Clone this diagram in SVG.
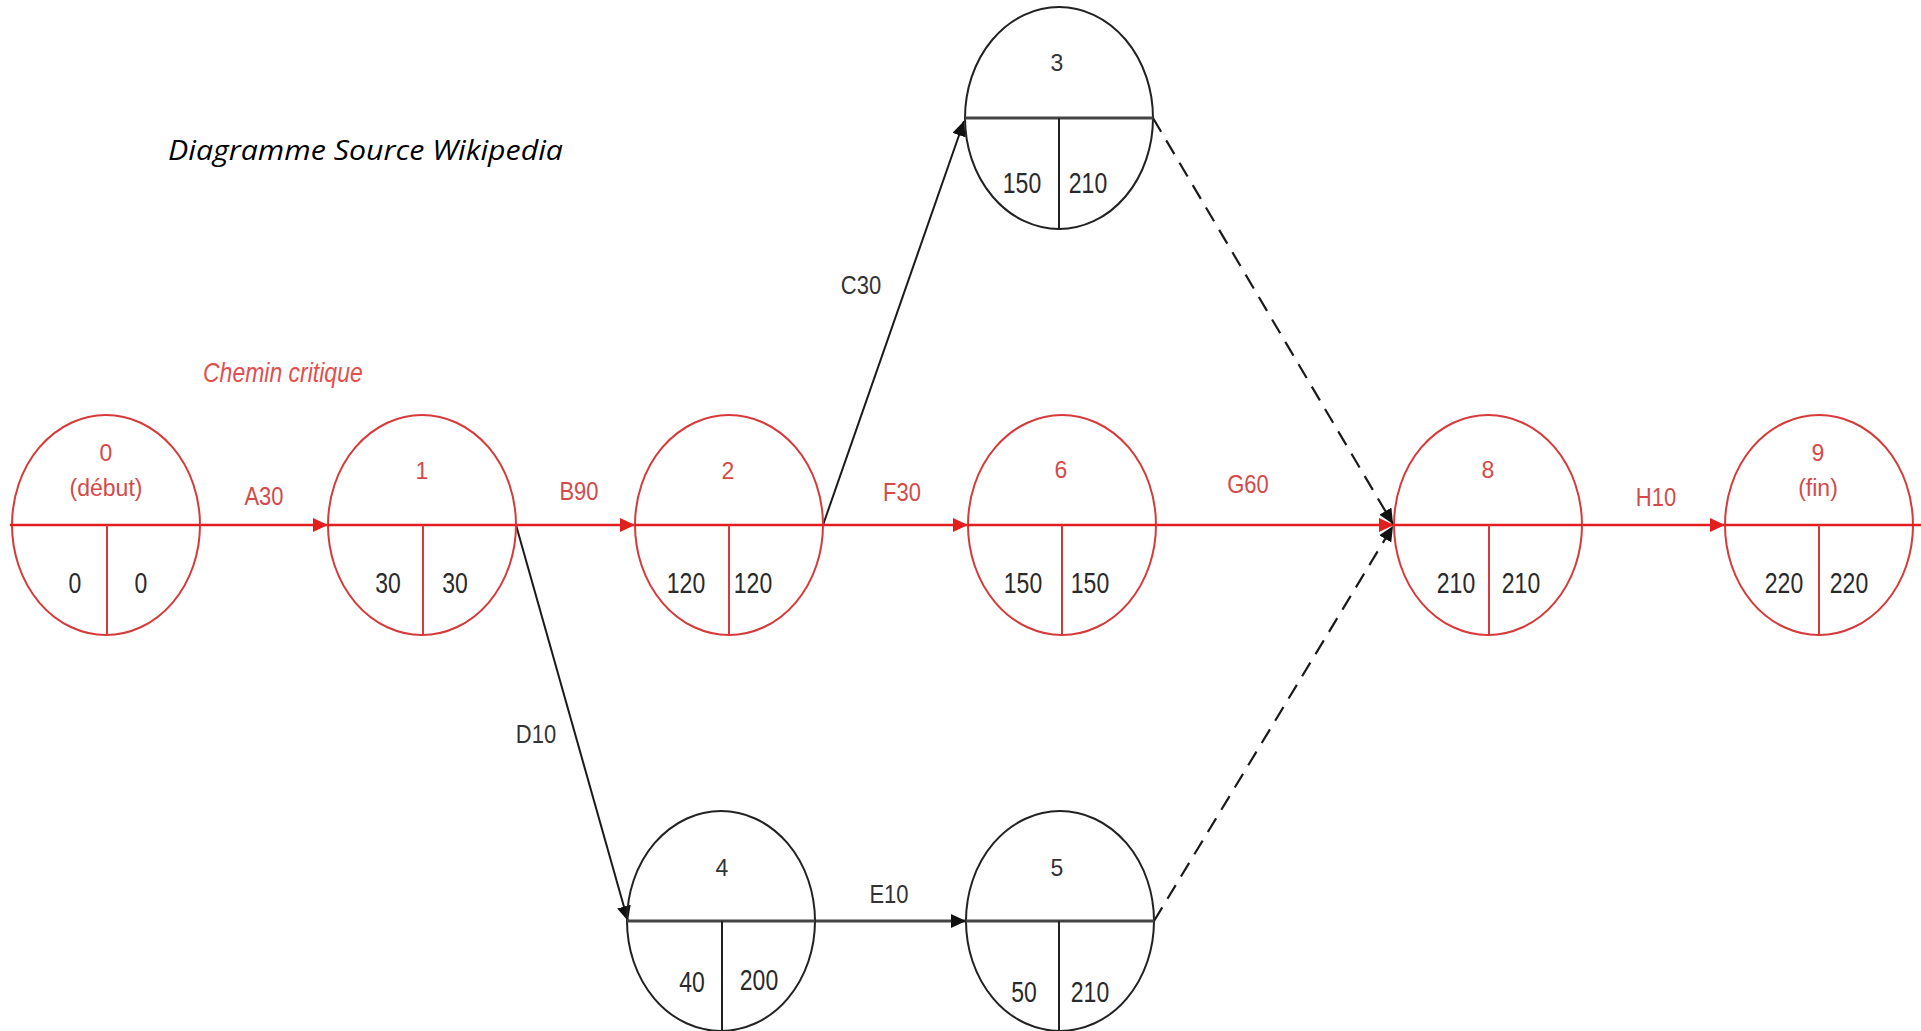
<svg xmlns="http://www.w3.org/2000/svg" width="1921" height="1031" viewBox="0 0 1921 1031">
<style>
.bg{fill:#ffffff}
.rn{fill:none;stroke:#d63a3a;stroke-width:2}
.bn{fill:none;stroke:#222;stroke-width:2}
.rl{stroke:#e21f1f;stroke-width:2.5;fill:none}
.rd{stroke:#d63a3a;stroke-width:2;fill:none}
.bl{stroke:#444;stroke-width:3;fill:none}
.bd{stroke:#222;stroke-width:2;fill:none}
.ba{stroke:#1a1a1a;stroke-width:2;fill:none}
.dash{stroke:#1a1a1a;stroke-width:2.2;fill:none;stroke-dasharray:16 10}
text{font-family:"Liberation Sans",Arial,sans-serif;text-anchor:middle}
.top{font-size:23px;fill:#d44a4a}
.topb{font-size:23px;fill:#333}
.num{font-size:23px;fill:#2a2a2a;transform-box:fill-box;transform-origin:center;transform:scaleY(1.3)}
.el{font-size:22px;fill:#d44a4a;transform-box:fill-box;transform-origin:center;transform:scaleY(1.2)}
.elb{font-size:22px;fill:#333;transform-box:fill-box;transform-origin:center;transform:scaleY(1.2)}
.crit{font-size:23px;font-style:italic;fill:#e05050;text-anchor:start;transform-box:fill-box;transform-origin:center;transform:scaleY(1.2)}
.title{font-family:"Open Sans","Noto Sans",sans-serif;font-size:28px;font-style:italic;fill:#000;text-anchor:start}
</style>
<defs>
<marker id="ar" markerUnits="userSpaceOnUse" markerWidth="16" markerHeight="16" refX="15" refY="7" orient="auto">
<path d="M0,0 L15,7 L0,14 z" fill="#e21f1f"/>
</marker>
<marker id="ab" markerUnits="userSpaceOnUse" markerWidth="16" markerHeight="16" refX="15" refY="7" orient="auto">
<path d="M0,0 L15,7 L0,14 z" fill="#111"/>
</marker>
</defs>
<rect class="bg" x="0" y="0" width="1921" height="1031"/>

<text class="title" x="168" y="160" textLength="395" lengthAdjust="spacingAndGlyphs">Diagramme Source Wikipedia</text>
<text class="crit" x="203" y="380">Chemin critique</text>

<g id="connectors">
<line class="rl" x1="200" y1="525" x2="328" y2="525" marker-end="url(#ar)"/>
<line class="rl" x1="516" y1="525" x2="635" y2="525" marker-end="url(#ar)"/>
<line class="rl" x1="823" y1="525" x2="968" y2="525" marker-end="url(#ar)"/>
<line class="rl" x1="1156" y1="525" x2="1394" y2="525" marker-end="url(#ar)"/>
<line class="rl" x1="1582" y1="525" x2="1725" y2="525" marker-end="url(#ar)"/>
<line class="ba" x1="823" y1="525" x2="964" y2="121" marker-end="url(#ab)"/>
<line class="ba" x1="516" y1="525" x2="628" y2="921" marker-end="url(#ab)"/>
<line class="bl" x1="815" y1="921" x2="966" y2="921" marker-end="url(#ab)"/>
<line class="dash" x1="1153" y1="118" x2="1393" y2="524" marker-end="url(#ab)"/>
<line class="dash" x1="1154" y1="921" x2="1393" y2="526" marker-end="url(#ab)"/>
<text class="el" x="264" y="503">A30</text>
<text class="el" x="579" y="498">B90</text>
<text class="el" x="902" y="499">F30</text>
<text class="el" x="1248" y="491">G60</text>
<text class="el" x="1656" y="504">H10</text>
<text class="elb" x="861" y="292">C30</text>
<text class="elb" x="536" y="741">D10</text>
<text class="elb" x="889" y="901">E10</text>
</g>

<g id="node0">
<ellipse class="rn" cx="106" cy="525" rx="94" ry="110"/>
<line class="rl" x1="10" y1="525" x2="200" y2="525"/>
<line class="rd" x1="107" y1="525" x2="107" y2="635"/>
<text class="top" x="106" y="461">0</text>
<text class="top" x="106" y="496">(début)</text>
<text class="num" x="75" y="591">0</text>
<text class="num" x="141" y="591">0</text>
</g>

<g id="node1">
<ellipse class="rn" cx="422" cy="525" rx="94" ry="110"/>
<line class="rl" x1="328" y1="525" x2="516" y2="525"/>
<line class="rd" x1="423" y1="525" x2="423" y2="635"/>
<text class="top" x="422" y="479">1</text>
<text class="num" x="388" y="591">30</text>
<text class="num" x="455" y="591">30</text>
</g>

<g id="node2">
<ellipse class="rn" cx="729" cy="525" rx="94" ry="110"/>
<line class="rl" x1="635" y1="525" x2="823" y2="525"/>
<line class="rd" x1="729" y1="525" x2="729" y2="635"/>
<text class="top" x="728" y="479">2</text>
<text class="num" x="686" y="591">120</text>
<text class="num" x="753" y="591">120</text>
</g>

<g id="node6">
<ellipse class="rn" cx="1062" cy="525" rx="94" ry="110"/>
<line class="rl" x1="968" y1="525" x2="1156" y2="525"/>
<line class="rd" x1="1062" y1="525" x2="1062" y2="635"/>
<text class="top" x="1061" y="478">6</text>
<text class="num" x="1023" y="591">150</text>
<text class="num" x="1090" y="591">150</text>
</g>

<g id="node8">
<ellipse class="rn" cx="1488" cy="525" rx="94" ry="110"/>
<line class="rl" x1="1394" y1="525" x2="1582" y2="525"/>
<line class="rd" x1="1489" y1="525" x2="1489" y2="635"/>
<text class="top" x="1488" y="478">8</text>
<text class="num" x="1456" y="591">210</text>
<text class="num" x="1521" y="591">210</text>
</g>

<g id="node9">
<ellipse class="rn" cx="1819" cy="525" rx="94" ry="110"/>
<line class="rl" x1="1725" y1="525" x2="1921" y2="525"/>
<line class="rd" x1="1819" y1="525" x2="1819" y2="635"/>
<text class="top" x="1818" y="461">9</text>
<text class="top" x="1818" y="496">(fin)</text>
<text class="num" x="1784" y="591">220</text>
<text class="num" x="1849" y="591">220</text>
</g>

<g id="node3">
<ellipse class="bn" cx="1059" cy="118" rx="94" ry="111"/>
<line class="bl" x1="965" y1="118" x2="1153" y2="118"/>
<line class="bd" x1="1059" y1="118" x2="1059" y2="229"/>
<text class="topb" x="1057" y="71">3</text>
<text class="num" x="1022" y="191">150</text>
<text class="num" x="1088" y="191">210</text>
</g>

<g id="node4">
<ellipse class="bn" cx="721" cy="921" rx="94" ry="110"/>
<line class="bl" x1="627" y1="921" x2="815" y2="921"/>
<line class="bd" x1="722" y1="921" x2="722" y2="1031"/>
<text class="topb" x="722" y="876">4</text>
<text class="num" x="692" y="990">40</text>
<text class="num" x="759" y="988">200</text>
</g>

<g id="node5">
<ellipse class="bn" cx="1060" cy="921" rx="94" ry="110"/>
<line class="bl" x1="966" y1="921" x2="1154" y2="921"/>
<line class="bd" x1="1059" y1="921" x2="1059" y2="1031"/>
<text class="topb" x="1057" y="876">5</text>
<text class="num" x="1024" y="1000">50</text>
<text class="num" x="1090" y="1000">210</text>
</g>
</svg>
